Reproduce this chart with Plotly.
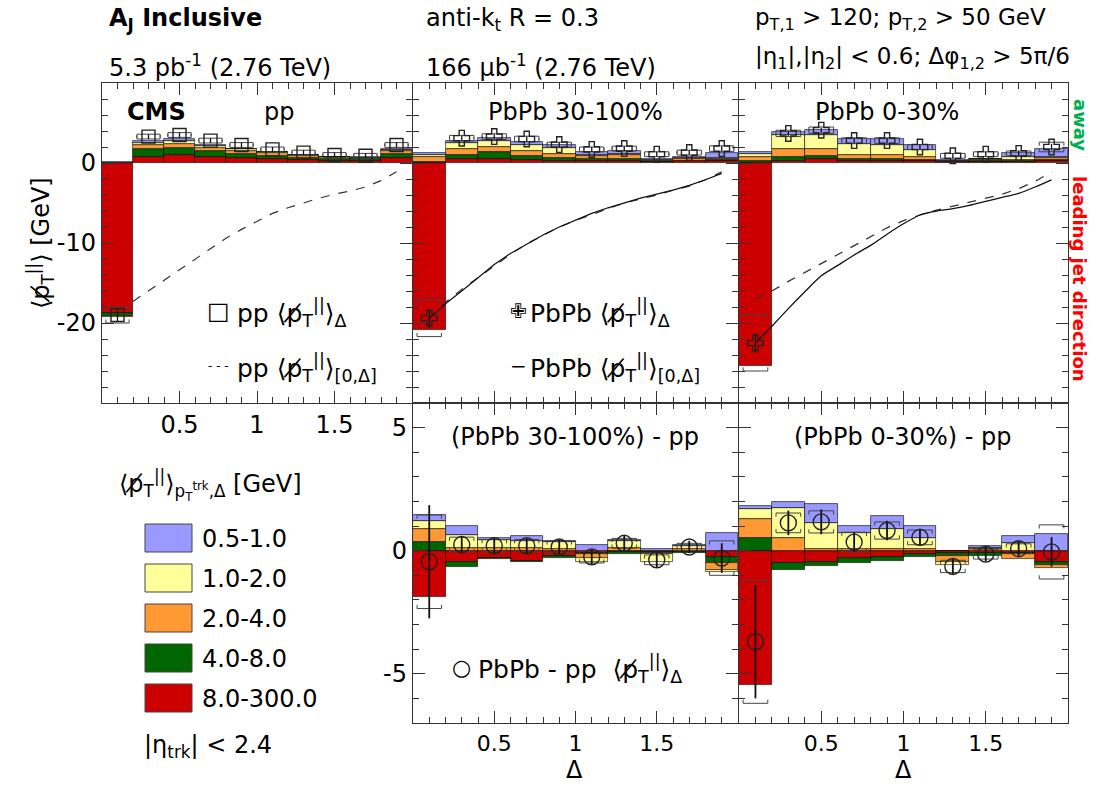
import plotly.graph_objects as go

W, H = 1093, 786
FONT = "DejaVu Sans"

# ---------------- data ----------------
delta_centers = [0.1, 0.3, 0.5, 0.7, 0.9, 1.1, 1.3, 1.5, 1.7, 1.9]
pt_bins = ["0.5-1.0", "1.0-2.0", "2.0-4.0", "4.0-8.0", "8.0-300.0"]
pt_colors = ["#9999FF", "#FFFF99", "#FF9933", "#006600", "#CC0000"]

# pp (per pT bin, order: 8-300, 4-8, 2-4, 1-2, 0.5-1)
pp_red = [-18.8, 0.8, 1.0, 0.8, 0.6, 0.5, 0.35, 0.3, 0.25, 0.6]
pp_green = [-0.3, 0.9, 0.9, 0.7, 0.55, 0.4, 0.3, 0.25, 0.2, 0.5]
pp_orange = [-0.1, 0.5, 0.5, 0.4, 0.35, 0.3, 0.2, 0.15, 0.15, 0.35]
pp_yellow = [0.05, 0.35, 0.35, 0.25, 0.2, 0.15, 0.1, 0.07, 0.07, 0.2]
pp_blue = [0.05, 0.2, 0.2, 0.1, 0.1, 0.05, 0.05, 0.03, 0.03, 0.15]
pp_total = [-19.0, 3.3, 3.5, 2.8, 2.25, 1.7, 1.3, 1.0, 0.9, 2.25]
pp_stat = [0.8, 0.3, 0.3, 0.3, 0.3, 0.3, 0.3, 0.3, 0.3, 0.3]
pp_sys = [1.0, 0.3, 0.3, 0.3, 0.3, 0.3, 0.3, 0.3, 0.3, 0.3]

cum_x = [0.1, 0.2, 0.3, 0.4, 0.5, 0.6, 0.7, 0.8, 0.9, 1.0,
         1.1, 1.2, 1.3, 1.4, 1.5, 1.6, 1.7, 1.8, 1.9]
pp_cum = [None, -17.3, -16.0, -14.6, -13.3, -12.0, -10.7, -9.4, -8.3, -7.3,
          -6.3, -5.6, -5.0, -4.4, -3.9, -3.5, -3.0, -2.2, -1.1]

# PbPb 30-100%
mid_red = [-20.9, 0.45, 0.55, 0.4, 0.3, 0.25, 0.25, 0.15, 0.2, 0.2]
mid_green = [0.1, 0.55, 0.8, 0.5, 0.35, 0.25, 0.2, 0.1, 0.1, 0.15]
mid_orange = [0.6, 0.7, 0.6, 0.55, 0.45, 0.35, 0.5, 0.05, 0.2, 0.1]
mid_yellow = [0.3, 0.75, 0.85, 0.8, 0.75, 0.2, 0.2, 0.05, 0.1, 0.15]
mid_blue = [0.3, 0.3, 0.3, 0.4, 0.4, 0.35, 0.35, 0.1, 0.1, 0.7]
mid_total = [-19.4, 3.1, 3.3, 3.0, 2.3, 1.7, 1.8, 1.1, 1.3, 1.8]
mid_stat = [1.2, 0.3, 0.3, 0.3, 0.3, 0.3, 0.3, 0.3, 0.3, 0.3]
mid_sys = [2.3, 0.35, 0.35, 0.35, 0.3, 0.3, 0.3, 0.3, 0.3, 0.35]
mid_cum = [-19.4, -17.6, -16.0, -14.4, -12.7, -11.3, -10.1, -9.0, -8.0, -7.1,
           -6.3, -5.6, -5.0, -4.4, -3.9, -3.4, -2.8, -2.1, -1.3]
mid_ref = [-19.4, -17.4, -15.8, -14.3, -12.8, -11.4, -10.1, -9.0, -8.0, -7.2,
           -6.4, -5.7, -5.0, -4.5, -4.0, -3.4, -2.9, -2.1, -1.1]

# PbPb 0-30%
cen_red = [-25.4, 0.3, 0.45, 0.3, 0.25, 0.2, 0.1, 0.15, 0.15, 0.2]
cen_green = [0.2, 0.4, 0.4, 0.25, 0.2, 0.15, 0.05, 0.1, 0.1, 0.15]
cen_orange = [0.6, 1.0, 0.95, 0.45, 0.5, 0.35, 0.05, 0.1, 0.15, 0.25]
cen_yellow = [0.3, 1.8, 1.7, 1.35, 1.3, 0.9, 0.05, 0.1, 0.3, 0.2]
cen_blue = [0.3, 0.4, 0.6, 0.6, 0.7, 0.65, 0.1, 0.1, 0.5, 1.0]
cen_total = [-22.5, 3.7, 4.1, 2.8, 2.8, 2.0, 0.9, 1.1, 1.2, 2.0]
cen_stat = [1.2, 0.3, 0.3, 0.3, 0.3, 0.3, 0.3, 0.3, 0.3, 0.4]
cen_sys = [3.5, 0.4, 0.4, 0.35, 0.35, 0.3, 0.3, 0.3, 0.3, 0.6]
cen_cum = [-22.5, -20.4, -18.2, -16.1, -14.1, -12.8, -11.5, -10.3, -8.9, -7.6,
           -6.5, -6.0, -5.7, -5.3, -4.8, -4.3, -3.8, -3.0, -2.1]
cen_ref = [-17.0, -16.0, -14.8, -13.7, -12.6, -11.5, -10.4, -9.3, -8.1, -7.2,
           -6.5, -5.9, -5.4, -4.9, -4.4, -3.9, -3.2, -2.3, -1.1]

# (PbPb 30-100%) - pp
dm_red = [-1.9, -0.45, -0.3, -0.4, -0.2, -0.1, -0.05, -0.05, -0.05, -0.27]
dm_green = [0.35, -0.2, -0.05, -0.05, -0.1, -0.05, -0.1, -0.05, -0.05, -0.23]
dm_orange = [0.53, 0.1, 0.1, 0.1, 0.05, -0.15, 0.1, -0.05, 0.05, -0.27]
dm_yellow = [0.34, 0.55, 0.35, 0.3, 0.3, -0.15, 0.3, -0.3, 0.15, -0.1]
dm_blue = [0.25, 0.35, 0.05, 0.2, 0.05, 0.25, 0.05, 0.05, 0.05, 0.7]
dm_total = [-0.45, 0.25, 0.2, 0.2, 0.15, -0.25, 0.3, -0.37, 0.15, -0.3]
dm_stat = [2.3, 0.35, 0.3, 0.3, 0.3, 0.3, 0.3, 0.3, 0.25, 0.6]
dm_sys = [1.9, 0.3, 0.25, 0.25, 0.25, 0.25, 0.2, 0.2, 0.15, 0.7]

# (PbPb 0-30%) - pp
dc_red = [-5.44, -0.5, -0.44, -0.3, -0.25, -0.15, -0.1, -0.1, -0.1, -0.44]
dc_green = [0.52, -0.27, -0.2, -0.2, -0.15, -0.1, -0.1, -0.1, -0.05, -0.14]
dc_orange = [0.75, 0.52, 0.05, 0.05, 0.05, 0.05, -0.25, 0.05, -0.2, -0.14]
dc_yellow = [0.41, 1.22, 1.09, 0.68, 0.82, 0.48, -0.12, 0.05, 0.3, 0.0]
dc_blue = [0.14, 0.25, 0.76, 0.27, 0.54, 0.48, 0.0, 0.1, 0.3, 0.68]
dc_total = [-3.7, 1.13, 1.17, 0.35, 0.82, 0.54, -0.64, -0.14, 0.08, -0.05]
dc_stat = [2.3, 0.5, 0.5, 0.4, 0.4, 0.35, 0.3, 0.3, 0.3, 0.6]
dc_sys = [2.5, 0.4, 0.45, 0.4, 0.35, 0.3, 0.25, 0.2, 0.2, 1.1]

# ---------------- figure ----------------
fig = go.Figure()


def add_stack(layers, xa, ya):
    # red (8-300) first so it sits closest to zero
    order = [4, 3, 2, 1, 0]
    for idx, vals in zip(order, layers):
        fig.add_trace(go.Bar(
            x=delta_centers, y=vals, width=0.2, xaxis=xa, yaxis=ya,
            marker=dict(color=pt_colors[idx], line=dict(color="rgba(0,0,0,0.75)", width=0.8)),
            showlegend=False, hoverinfo="skip"))


def add_brackets(vals, sys, xa, ya, tick):
    xs, ys = [], []
    hw = 0.075
    for x, y, s in zip(delta_centers, vals, sys):
        t, b = y + s, y - s
        xs += [x - hw, x - hw, x + hw, x + hw, None, x - hw, x - hw, x + hw, x + hw, None]
        ys += [t - tick, t, t, t - tick, None, b + tick, b, b, b + tick, None]
    fig.add_trace(go.Scatter(x=xs, y=ys, mode="lines", xaxis=xa, yaxis=ya,
                             line=dict(color="#444", width=1), showlegend=False,
                             hoverinfo="skip"))


def add_points(vals, stat, xa, ya, symbol, size, thick=1.3):
    fig.add_trace(go.Scatter(
        x=delta_centers, y=vals, mode="markers", xaxis=xa, yaxis=ya,
        marker=dict(symbol=symbol, size=size, color="#222",
                    line=dict(color="#222", width=1.4)),
        error_y=dict(type="data", array=stat, color="#111", thickness=thick, width=0),
        showlegend=False, hoverinfo="skip"))


add_stack([pp_red, pp_green, pp_orange, pp_yellow, pp_blue], "x", "y")
add_stack([mid_red, mid_green, mid_orange, mid_yellow, mid_blue], "x2", "y2")
add_stack([cen_red, cen_green, cen_orange, cen_yellow, cen_blue], "x3", "y3")
add_stack([dm_red, dm_green, dm_orange, dm_yellow, dm_blue], "x4", "y4")
add_stack([dc_red, dc_green, dc_orange, dc_yellow, dc_blue], "x5", "y5")

add_brackets(pp_total, pp_sys, "x", "y", 0.45)
add_brackets(mid_total, mid_sys, "x2", "y2", 0.45)
add_brackets(cen_total, cen_sys, "x3", "y3", 0.45)
add_brackets(dm_total, dm_sys, "x4", "y4", 0.15)
add_brackets(dc_total, dc_sys, "x5", "y5", 0.15)

# cumulative curves
fig.add_trace(go.Scatter(x=cum_x, y=pp_cum, mode="lines", xaxis="x", yaxis="y",
                         line=dict(color="#333", width=1.2, dash="dash"),
                         showlegend=False, hoverinfo="skip", connectgaps=False))
fig.add_trace(go.Scatter(x=cum_x, y=mid_ref, mode="lines", xaxis="x2", yaxis="y2",
                         line=dict(color="#333", width=1.2, dash="dash"),
                         showlegend=False, hoverinfo="skip"))
fig.add_trace(go.Scatter(x=cum_x, y=mid_cum, mode="lines", xaxis="x2", yaxis="y2",
                         line=dict(color="#111", width=1.2),
                         showlegend=False, hoverinfo="skip"))
fig.add_trace(go.Scatter(x=cum_x, y=cen_ref, mode="lines", xaxis="x3", yaxis="y3",
                         line=dict(color="#333", width=1.3, dash="dash"),
                         showlegend=False, hoverinfo="skip"))
fig.add_trace(go.Scatter(x=cum_x, y=cen_cum, mode="lines", xaxis="x3", yaxis="y3",
                         line=dict(color="#111", width=1.3, shape="spline", smoothing=0.6),
                         showlegend=False, hoverinfo="skip"))

add_points(pp_total, pp_stat, "x", "y", "square-open", 13)
add_points(mid_total, mid_stat, "x2", "y2", "cross-open", 13)
add_points(cen_total, cen_stat, "x3", "y3", "cross-open", 13)
add_points(dm_total, dm_stat, "x4", "y4", "circle-open", 16, 1.8)
add_points(dc_total, dc_stat, "x5", "y5", "circle-open", 16, 1.8)

# ---------------- axes ----------------
def dx(a, b):
    return [a / W, b / W]


def dy(top, bottom):
    return [1 - bottom / H, 1 - top / H]


tickfont = dict(family=FONT, size=24, color="black")
common = dict(showline=True, linecolor="#333", linewidth=1.3, mirror="ticks",
              ticks="inside", ticklen=12, tickcolor="#333", tickwidth=1,
              showgrid=False, zeroline=False, tickfont=tickfont, fixedrange=True)

xa_common = dict(common, range=[0, 2], tickvals=[0.5, 1, 1.5], ticktext=["0.5", "1", "1.5"],
                 minor=dict(dtick=0.1, tick0=0, ticklen=6, ticks="inside", tickcolor="#333"))
xb_common = dict(xa_common, tickfont=dict(family=FONT, size=22, color="black"))
ytop_common = dict(common, range=[-30, 10], tickvals=[-20, -10, 0], ticktext=["-20", "-10", "0"],
                   minor=dict(dtick=2, tick0=0, ticklen=6, ticks="inside", tickcolor="#333"))
ybot_common = dict(common, range=[-7, 6], tickvals=[-5, 0, 5], ticktext=["-5", "0", "5"],
                   minor=dict(dtick=1, tick0=0, ticklen=6, ticks="inside", tickcolor="#333"))

TOP = dy(83, 403)
BOT = dy(403, 723)

fig.update_layout(
    xaxis=dict(xa_common, domain=dx(102, 412), anchor="y"),
    yaxis=dict(ytop_common, domain=TOP, anchor="x"),
    xaxis2=dict(xa_common, domain=dx(413, 738), anchor="y2", showticklabels=False),
    yaxis2=dict(ytop_common, domain=TOP, anchor="x2", showticklabels=False),
    xaxis3=dict(xa_common, domain=dx(739, 1068), anchor="y3", showticklabels=False),
    yaxis3=dict(ytop_common, domain=TOP, anchor="x3", showticklabels=False),
    xaxis4=dict(xb_common, domain=dx(413, 738), anchor="y4"),
    yaxis4=dict(ybot_common, domain=BOT, anchor="x4"),
    xaxis5=dict(xb_common, domain=dx(739, 1068), anchor="y5"),
    yaxis5=dict(ybot_common, domain=BOT, anchor="x5", showticklabels=False),
    barmode="relative", bargap=0,
    width=W, height=H, margin=dict(l=0, r=0, t=0, b=0),
    paper_bgcolor="white", plot_bgcolor="white",
    font=dict(family=FONT, size=24, color="black"),
    showlegend=False,
)

# ---------------- text ----------------
PT = "⟨p̸<sub>T</sub><sup>||</sup>⟩"
annots = []


def txt(x, y, text, size=24, anchor="left", color="black", angle=0, bold=False,
        yanchor="middle"):
    if bold:
        text = "<b>" + text + "</b>"
    annots.append(dict(x=x / W, y=1 - y / H, xref="paper", yref="paper", text=text,
                       showarrow=False, xanchor=anchor, yanchor=yanchor, textangle=angle,
                       borderpad=0,
                       font=dict(family=FONT, size=size, color=color)))


# header
txt(108, 19, "A<sub>J</sub> Inclusive", 24, bold=True)
txt(108, 66, "5.3 pb<sup>-1</sup> (2.76 TeV)", 24)
txt(425, 19, "anti-k<sub>t</sub> R = 0.3", 24)
txt(425, 66, "166 μb<sup>-1</sup> (2.76 TeV)", 24)
txt(754, 19, "p<sub>T,1</sub> > 120; p<sub>T,2</sub> > 50 GeV", 23)
txt(754, 58, "|η<sub>1</sub>|,|η<sub>2</sub>| < 0.6; Δφ<sub>1,2</sub> > 5π/6", 23)

# panel labels
txt(126, 112, "CMS", 24, bold=True)
txt(263, 112, "pp", 24)
txt(575, 112, "PbPb 30-100%", 24, anchor="center")
txt(887, 112, "PbPb 0-30%", 24, anchor="center")
txt(575, 437, "(PbPb 30-100%) - pp", 24, anchor="center")
txt(902, 437, "(PbPb 0-30%) - pp", 24, anchor="center")

# axis titles (Δ)
txt(574, 785, "Δ", 24, anchor="center", yanchor="bottom")
txt(903, 785, "Δ", 24, anchor="center", yanchor="bottom")

# in-panel legends
txt(218, 311, "□", 24, anchor="center")
txt(236, 313, "pp " + PT + "<sub>Δ</sub>", 25)
txt(218, 366, "- - -", 12, anchor="center")
txt(236, 368, "pp " + PT + "<sub>[0,Δ]</sub>", 25)
txt(518, 311, "✙", 20, anchor="center")
txt(529, 313, "PbPb " + PT + "<sub>Δ</sub>", 25)
txt(518, 366, "−", 20, anchor="center")
txt(529, 368, "PbPb " + PT + "<sub>[0,Δ]</sub>", 25)
txt(461, 667, "○", 22, anchor="center")
txt(477, 669, "PbPb - pp  " + PT + "<sub>Δ</sub>", 25)

# y title
txt(40, 243, PT + " [GeV]", 24, anchor="center", angle=-90)

# side labels
txt(1080, 125, "away", 18, anchor="center", color="#00B050", angle=90, bold=True)
txt(1080, 279, "leading jet direction", 18, anchor="center", color="#FF0000", angle=90, bold=True)

# pT legend
txt(118, 485, PT + "<sub>p<sub>T</sub><sup>trk</sup>,Δ</sub> [GeV]", 24)
shapes = []
box_top = [524, 564, 604, 644, 684]
for lab, col, t in zip(pt_bins, pt_colors, box_top):
    shapes.append(dict(type="rect", xref="paper", yref="paper",
                       x0=145 / W, x1=192 / W, y0=1 - (t + 28) / H, y1=1 - t / H,
                       fillcolor=col, line=dict(color="#444", width=1)))
    txt(201, t + 15, lab, 24)
txt(143, 746, "|η<sub>trk</sub>| < 2.4", 24)

fig.update_layout(annotations=annots, shapes=shapes)
fig.write_html("out.html")
